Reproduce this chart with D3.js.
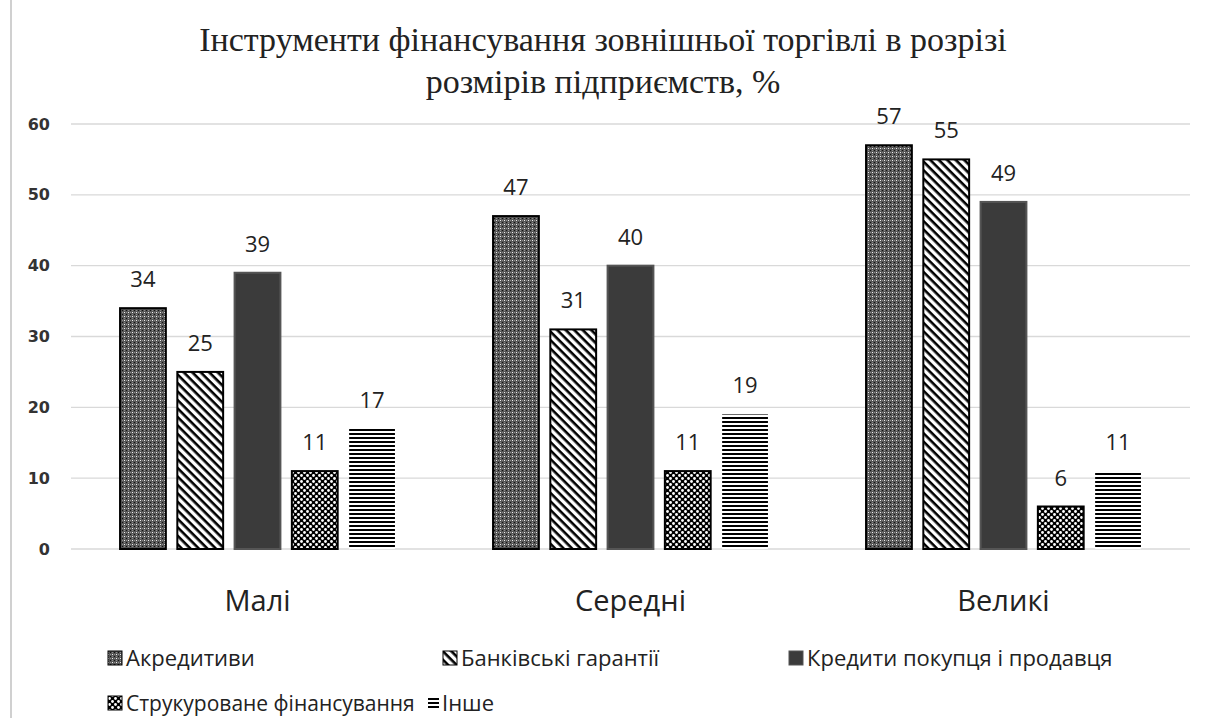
<!DOCTYPE html>
<html>
<head>
<meta charset="utf-8">
<script src="https://cdn.jsdelivr.net/npm/d3@7"></script>
<style>
  body { margin: 0; background: #fff; }
  svg { display: block; }
</style>
</head>
<body>
<svg id="chart" width="1209" height="718"></svg>
<script>
var categories = ["Малі", "Середні", "Великі"];
var series = ["Акредитиви", "Банківські гарантії", "Кредити покупця і продавця", "Струкуроване фінансування", "Інше"];
var akredytyvy = [34, 47, 57];
var harantii = [25, 31, 55];
var kredyty = [39, 40, 49];
var strukt = [11, 11, 6];
var inshe = [17, 19, 11];
var yTicks = [0, 10, 20, 30, 40, 50, 60];
var titleLines = ["Інструменти фінансування зовнішньої торгівлі в розрізі", "розмірів підприємств, %"];

var values = [akredytyvy, harantii, kredyty, strukt, inshe];

var svg = d3.select("svg#chart");
var defs = svg.append("defs");

// patterns for the bars
var p1 = defs.append("pattern").attr("id", "pat0").attr("patternUnits", "userSpaceOnUse")
    .attr("width", 4).attr("height", 4);
p1.append("rect").attr("width", 4).attr("height", 4).attr("fill", "#555");
p1.append("rect").attr("x", 0).attr("y", 0).attr("width", 1).attr("height", 1).attr("fill", "#eee");
p1.append("rect").attr("x", 2).attr("y", 2).attr("width", 1).attr("height", 1).attr("fill", "#111");
p1.append("rect").attr("x", 2).attr("y", 0).attr("width", 1).attr("height", 1).attr("fill", "#8a8a8a");
p1.append("rect").attr("x", 0).attr("y", 2).attr("width", 1).attr("height", 1).attr("fill", "#8a8a8a");

var p2 = defs.append("pattern").attr("id", "pat1").attr("patternUnits", "userSpaceOnUse")
    .attr("width", 6).attr("height", 6).attr("patternTransform", "rotate(45)");
p2.append("rect").attr("width", 6).attr("height", 6).attr("fill", "#fff");
p2.append("rect").attr("x", 0).attr("y", 0).attr("width", 6).attr("height", 2.6).attr("fill", "#000");

var p4 = defs.append("pattern").attr("id", "pat3").attr("patternUnits", "userSpaceOnUse")
    .attr("width", 6).attr("height", 6);
p4.append("rect").attr("width", 6).attr("height", 6).attr("fill", "#000");
p4.append("circle").attr("cx", 1.5).attr("cy", 1.5).attr("r", 1.4).attr("fill", "#fff");
p4.append("circle").attr("cx", 4.5).attr("cy", 4.5).attr("r", 1.4).attr("fill", "#fff");

var p5 = defs.append("pattern").attr("id", "pat4").attr("patternUnits", "userSpaceOnUse")
    .attr("width", 4).attr("height", 4);
p5.append("rect").attr("width", 4).attr("height", 4).attr("fill", "#fff");
p5.append("rect").attr("x", 0).attr("y", 1).attr("width", 4).attr("height", 2).attr("fill", "#000");

var fills = ["url(#pat0)", "url(#pat1)", "#3b3b3b", "url(#pat3)", "url(#pat4)"];
var strokes = ["#000", "#000", "#555", "#000", "none"];

// left frame line
svg.append("line").attr("x1", 11).attr("x2", 11).attr("y1", 0).attr("y2", 718)
    .attr("stroke", "#d0d0d0").attr("stroke-width", 2);

// title
svg.append("g").selectAll("text")
    .data(titleLines)
    .enter()
    .append("text")
    .attr("x", 603)
    .attr("y", function (d, i) { return 51 + i * 42; })
    .attr("text-anchor", "middle")
    .attr("font-family", "Liberation Serif, Times New Roman, serif")
    .attr("font-size", 34)
    .attr("letter-spacing", 0)
    .attr("fill", "#222")
    .text(function (d) { return d; });

var plotLeft = 71, plotRight = 1190, plotTop = 124, plotBottom = 549;

var x0 = d3.scaleBand().domain(categories).range([plotLeft, plotRight])
    .paddingInner(0.263).paddingOuter(0.1315);
var x1 = d3.scaleBand().domain(series).range([0, x0.bandwidth()]).paddingInner(0.2);
var y = d3.scaleLinear().domain([0, 60]).range([plotBottom, plotTop]);

// gridlines
svg.append("g").selectAll("line")
    .data(yTicks)
    .enter()
    .append("line")
    .attr("x1", plotLeft).attr("x2", plotRight)
    .attr("y1", function (d) { return y(d); })
    .attr("y2", function (d) { return y(d); })
    .attr("stroke", "#d9d9d9").attr("stroke-width", 1.3);

// y axis labels
var yAxis = svg.append("g")
    .attr("transform", "translate(" + 58 + ",0)")
    .call(d3.axisLeft(y).tickValues(yTicks).tickSize(0).tickPadding(8));
yAxis.select(".domain").remove();
yAxis.selectAll("text")
    .attr("font-family", "DejaVu Sans, sans-serif")
    .attr("font-size", 16)
    .attr("font-weight", "bold")
    .attr("fill", "#333");

// bars
var rows = [];
categories.forEach(function (c, ci) {
    series.forEach(function (s, si) {
        rows.push({cat: c, ser: s, si: si, val: values[si][ci]});
    });
});

svg.append("g").selectAll("rect")
    .data(rows)
    .enter()
    .append("rect")
    .attr("x", function (d) { return x0(d.cat) + x1(d.ser); })
    .attr("y", function (d) { return y(d.val); })
    .attr("width", x1.bandwidth())
    .attr("height", function (d) { return y(0) - y(d.val); })
    .attr("fill", function (d) { return fills[d.si]; })
    .attr("stroke", function (d) { return strokes[d.si]; })
    .attr("stroke-width", 2);

// value labels
svg.append("g").selectAll("text")
    .data(rows)
    .enter()
    .append("text")
    .attr("x", function (d) { return x0(d.cat) + x1(d.ser) + x1.bandwidth() / 2; })
    .attr("y", function (d) { return y(d.val) - 21; })
    .attr("text-anchor", "middle")
    .attr("font-family", "Open Sans, sans-serif")
    .attr("font-size", 22)
    .attr("fill", "#222")
    .text(function (d) { return d.val; });

// category labels
var xAxis = svg.append("g")
    .attr("transform", "translate(0," + plotBottom + ")")
    .call(d3.axisBottom(x0).tickSize(0).tickPadding(41));
xAxis.select(".domain").remove();
xAxis.selectAll("text")
    .attr("font-family", "Open Sans, sans-serif")
    .attr("font-size", 29)
    .attr("fill", "#222");

// legend
var legendPos = [
    {x: 108, y: 658}, {x: 443, y: 658}, {x: 789, y: 658},
    {x: 108, y: 703}, {x: 428, y: 703}
];
var legend = svg.append("g").selectAll("g")
    .data(series)
    .enter()
    .append("g")
    .attr("transform", function (d, i) { return "translate(" + legendPos[i].x + "," + legendPos[i].y + ")"; });

legend.filter(function (d, i) { return i != 4; })
    .append("rect")
    .attr("x", 0).attr("y", -7).attr("width", 14).attr("height", 14)
    .attr("fill", function (d, i) { return fills[series.indexOf(d)]; })
    .attr("stroke", function (d) { var s = strokes[series.indexOf(d)]; return s == "none" ? "#000" : s; })
    .attr("stroke-width", 1);

legend.filter(function (d, i) { return i == 4; })
    .selectAll("rect")
    .data([-4, 0, 4])
    .enter()
    .append("rect")
    .attr("x", 0).attr("y", function (d) { return d - 1; })
    .attr("width", 11).attr("height", 2)
    .attr("fill", "#000");

legend.append("text")
    .attr("x", function (d, i) { return i == 4 ? 14 : 18; })
    .attr("y", 8)
    .attr("font-family", "Open Sans, sans-serif")
    .attr("font-size", function (d, i) { return i == 3 ? 21 : 22; })
    .attr("fill", "#222")
    .text(function (d) { return d; });
</script>
</body>
</html>
